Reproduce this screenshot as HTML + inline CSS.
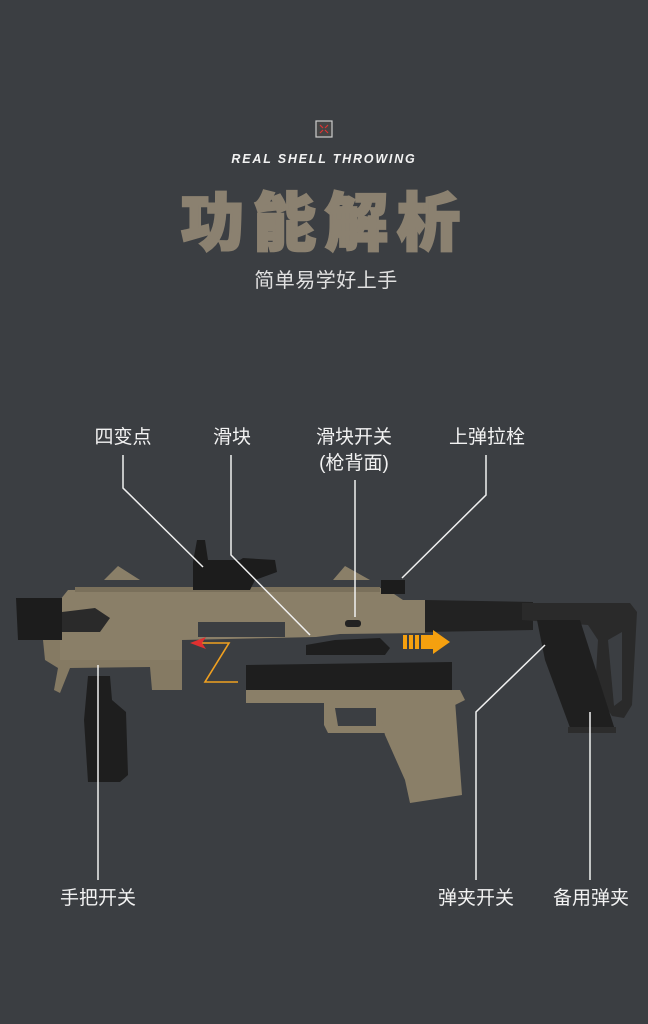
<!DOCTYPE html>
<html><head><meta charset="utf-8"><style>
body{margin:0;background:#3b3e42;}
#c{position:relative;width:648px;height:1024px;overflow:hidden;background:#3b3e42;font-family:"Liberation Sans","Noto Sans CJK SC",sans-serif;}
.t{position:absolute;color:#f2f2f2;font-size:19px;white-space:nowrap;transform:translateX(-50%);line-height:1;}
</style></head><body><div id="c">
<svg width="648" height="1024" style="position:absolute;left:0;top:0">
<rect x="316" y="121" width="16" height="16" fill="#444" stroke="#ccc" stroke-width="1.2"/>
<g stroke="#d33" stroke-width="1.2"><path d="M320 125l3 3M328 125l-3 3M320 133l3-3M328 133l-3-3"/></g>
<text x="324" y="163" text-anchor="middle" fill="#f2f2f2" font-family="Liberation Sans" font-weight="bold" font-style="italic" font-size="12.5" letter-spacing="1.8">REAL SHELL THROWING</text>
<text x="325" y="245" text-anchor="middle" fill="#8b8170" stroke="#8b8170" stroke-width="2.5" font-family="Noto Sans CJK SC" font-weight="900" font-size="63" letter-spacing="9">功能解析</text>
<text x="326" y="287" text-anchor="middle" fill="#e0e0e0" font-family="Noto Sans CJK SC" font-size="20" letter-spacing="0.5">简单易学好上手</text>
<!-- stock -->
<path d="M425 600 L533 602 L533 630 L425 632Z" fill="#222"/>
<path d="M522 603 L630 603 L637 612 L632 705 L624 718 L612 716 L595 690 L598 640 L588 625 L522 620Z" fill="#2a2a2a"/>
<path d="M608 640 L622 632 L622 700 L614 706 Z" fill="#3b3e42"/>
<path d="M537 620 L580 620 L616 733 L572 733 L545 660 Z" fill="#1f1f1f"/>
<rect x="568" y="727" width="48" height="6" fill="#2c2c2c"/>
<!-- grip -->
<path d="M88 676 L110 676 L112 700 L126 712 L128 775 L120 782 L88 782 L84 720 Z" fill="#1e1e1e"/>
<!-- front lower -->
<path d="M43 640 L182 637 L182 690 L152 690 L150 667 L70 668 L60 693 L54 690 L58 668 L45 660 Z" fill="#857a63"/>
<!-- main body -->
<path d="M68 590 L385 588 L403 600 L425 600 L425 633 L340 634 L316 637 L182 640 L182 660 L60 660 L60 600 Z" fill="#8a7f68"/>
<rect x="198" y="622" width="87" height="15" fill="#3b3e42"/>
<path d="M75 587 L380 587 L380 592 L75 592Z" fill="#7a705b"/>
<path d="M104 580 L118 566 L140 580Z M333 580 L345 566 L370 580Z" fill="#8a7f68"/>
<!-- muzzle -->
<path d="M16 598 L62 598 L62 640 L18 640 Z" fill="#1c1c1c"/>
<path d="M62 612 L95 608 L110 618 L100 632 L62 632Z" fill="#2a2a2a"/>
<!-- sight -->
<path d="M197 540 L205 540 L208 560 L240 560 L243 558 L275 560 L277 572 L255 580 L250 590 L193 590 L193 562 Z" fill="#1c1c1c"/>
<rect x="381" y="580" width="24" height="14" fill="#1c1c1c"/>
<!-- slide switch -->
<path d="M306 645 L335 640 L380 638 L390 648 L385 655 L306 655Z" fill="#1e1e1e"/>
<rect x="345" y="620" width="16" height="7" rx="3" fill="#222"/>
<!-- pistol -->
<path d="M246 665 L452 662 L452 690 L246 690Z" fill="#1e1e1e"/>
<path d="M246 690 L460 690 L465 700 L455 705 L324 705 L324 703 L246 703Z" fill="#8a7f68"/>
<path d="M324 703 L386 703 L386 733 L328 733 L324 725Z" fill="#8a7f68"/>
<path d="M335 708 L376 708 L376 726 L338 726Z" fill="#3b3e42"/>
<path d="M376 700 L455 700 L462 795 L410 803 L405 780 L385 735 Z" fill="#8a7f68"/>
<!-- arrows -->
<path d="M238 682 L205 682 L229 643 L198 643" fill="none" stroke="#f0a020" stroke-width="1.6"/>
<path d="M190 643 L206 637 L202 643 L206 649Z" fill="#e03030"/>
<g fill="#f5a00f"><rect x="403" y="635" width="4" height="14"/><rect x="409" y="635" width="4" height="14"/><rect x="415" y="635" width="4" height="14"/><rect x="421" y="635" width="12" height="14"/><path d="M433 630 L450 642 L433 654Z"/></g>
<!-- leader lines -->
<g stroke="#f0f0f0" stroke-width="1.5" fill="none">
<path d="M123 455 L123 488 L203 567"/>
<path d="M231 455 L231 555 L310 635"/>
<path d="M355 480 L355 617"/>
<path d="M486 455 L486 495 L402 578"/>
<path d="M98 665 L98 880"/>
<path d="M545 645 L476 712 L476 880"/>
<path d="M590 712 L590 880"/>
</g>
</svg>
<div class="t" style="left:123px;top:428px">四变点</div>
<div class="t" style="left:232px;top:428px">滑块</div>
<div class="t" style="left:354px;top:428px">滑块开关</div>
<div class="t" style="left:354px;top:454px">(枪背面)</div>
<div class="t" style="left:487px;top:428px">上弹拉栓</div>
<div class="t" style="left:98px;top:889px">手把开关</div>
<div class="t" style="left:476px;top:889px">弹夹开关</div>
<div class="t" style="left:591px;top:889px">备用弹夹</div>
</div></body></html>
